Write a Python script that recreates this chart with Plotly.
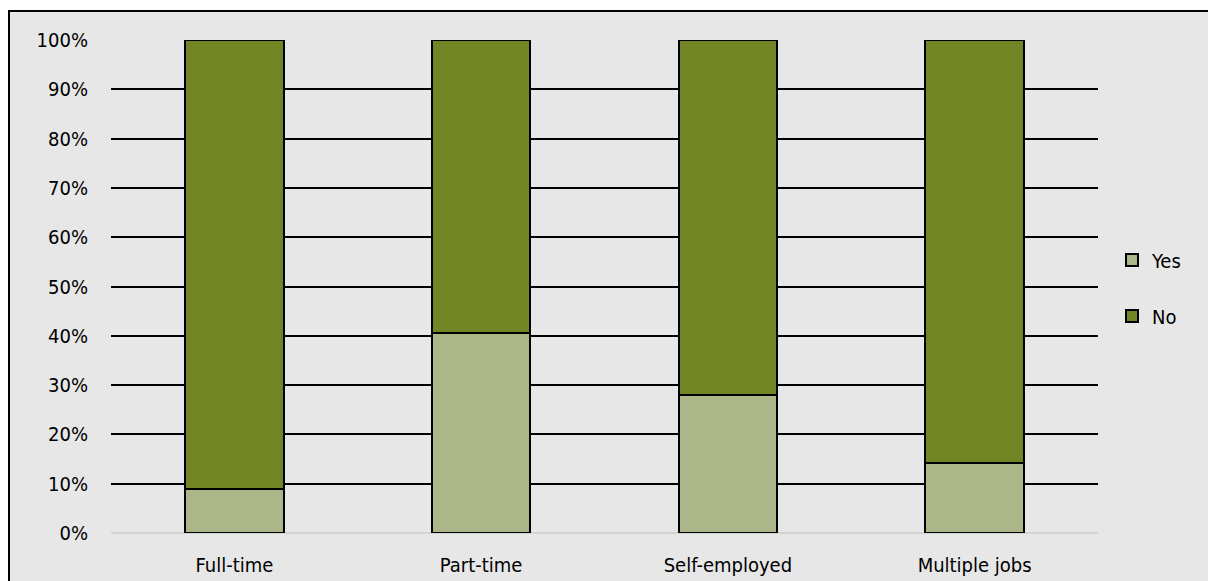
import plotly.graph_objects as go

categories = ["Full-time", "Part-time", "Self-employed", "Multiple jobs"]
yes_values = [8.9, 40.6, 28.0, 14.3]
no_values = [91.1, 59.4, 72.0, 85.7]
series_names = ["Yes", "No"]
tick_values = [0, 10, 20, 30, 40, 50, 60, 70, 80, 90, 100]
tick_labels = ["0%", "10%", "20%", "30%", "40%", "50%", "60%", "70%", "80%", "90%", "100%"]

FONT = "Tahoma, 'DejaVu Sans Condensed', 'DejaVu Sans', sans-serif"
FS = 20
YES_COLOR = "#ABB789"
NO_COLOR = "#718524"

fig = go.Figure()
fig.add_trace(go.Bar(
    x=categories, y=yes_values, name=series_names[0],
    marker=dict(color=YES_COLOR, line=dict(color="#000000", width=2)),
    legendgroup="g1",
))
fig.add_trace(go.Bar(
    x=categories, y=no_values, name=series_names[1],
    marker=dict(color=NO_COLOR, line=dict(color="#000000", width=2)),
    legendgroup="g2",
))

W, H = 1216, 581
ml, mr, mt, mb = 103, 126, 32, 56
pw = W - ml - mr
ph = H - mt - mb

# outer grey chart-area box with black border (in paper coordinates)
x0 = (1 - ml) / pw
y1 = (H - mb - 3) / ph

fig.update_layout(
    width=W, height=H,
    margin=dict(l=ml, r=mr, t=mt, b=mb, pad=0, autoexpand=False),
    paper_bgcolor="#E7E7E7",
    plot_bgcolor="rgba(0,0,0,0)",
    barmode="stack",
    bargap=0.6,
    font=dict(family=FONT, size=FS, color="#000000"),
    shapes=[
        dict(type="rect", xref="paper", yref="paper",
             x0=-0.3, x1=1.3, y0=y1, y1=1.3,
             fillcolor="#FFFFFF", line=dict(width=0), layer="below"),
        dict(type="rect", xref="paper", yref="paper",
             x0=-0.3, x1=x0, y0=-0.3, y1=1.3,
             fillcolor="#FFFFFF", line=dict(width=0), layer="below"),
        dict(type="rect", xref="paper", yref="paper",
             x0=x0, x1=1.3, y0=-0.3, y1=y1,
             fillcolor="#E7E7E7", line=dict(color="#000000", width=2),
             layer="below"),
    ],
    legend=dict(
        x=(1104 - ml) / pw, xanchor="left",
        y=0.497, yanchor="middle",
        traceorder="grouped",
        tracegroupgap=27,
        bgcolor="rgba(0,0,0,0)",
        font=dict(family=FONT, size=FS, color="#000000"),
    ),
    showlegend=True,
)

fig.update_xaxes(
    showgrid=False, showline=False, zeroline=False, automargin=False,
    ticks="outside", ticklen=14, tickcolor="rgba(0,0,0,0)",
    tickfont=dict(family=FONT, size=FS, color="#000000"),
)
fig.update_yaxes(
    range=[0, 100], tickvals=tick_values, ticktext=tick_labels,
    showgrid=True, gridcolor="#000000", gridwidth=2,
    zeroline=True, zerolinecolor="#D4D4D4", zerolinewidth=2,
    showline=False, automargin=False,
    ticks="outside", ticklen=18, tickcolor="rgba(0,0,0,0)",
    tickfont=dict(family=FONT, size=FS, color="#000000"),
)

fig.write_html("out.html")
